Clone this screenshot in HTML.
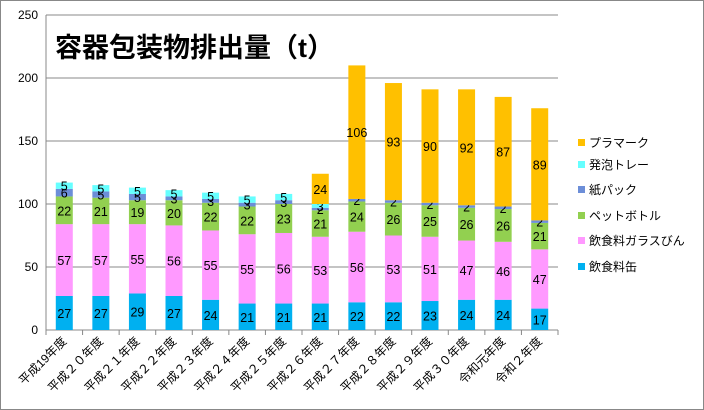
<!DOCTYPE html>
<html><head><meta charset="utf-8"><style>
body{margin:0;background:#fff}
svg{display:block;font-family:"Liberation Sans","Noto Sans CJK JP",sans-serif}
</style></head><body>
<svg id="c" width="704" height="410" viewBox="0 0 704 410">
<rect x="0.5" y="0.5" width="703" height="409" fill="#fff" stroke="#888"/>
<text x="55" y="57" font-size="27" font-weight="bold" fill="#000">容器包装物排出量（t）</text>
<g id="grid"></g><g id="bars"></g><g id="axes"></g><g id="legend"></g>
</svg>
<script>
const categories=["平成19年度","平成２０年度","平成２１年度","平成２２年度","平成２３年度","平成２４年度","平成２５年度","平成２６年度","平成２７年度","平成２８年度","平成２９年度","平成３０年度","令和元年度","令和２年度"];
const can=[27,27,29,27,24,21,21,21,22,22,23,24,24,17];
const glass=[57,57,55,56,55,55,56,53,56,53,51,47,46,47];
const pet=[22,21,19,20,22,22,23,21,24,26,25,26,26,21];
const paper=[6,5,5,3,3,3,3,2,2,2,2,2,2,2];
const tray=[5,5,5,5,5,5,5,3,0,0,0,0,0,0];
const plamark=[0,0,0,0,0,0,0,24,106,93,90,92,87,89];
const yTicks=[0,50,100,150,200,250];
const seriesNames=["飲食料缶","飲食料ガラスびん","ペットボトル","紙パック","発泡トレー","プラマーク"];
const NS="http://www.w3.org/2000/svg";
const series=[can,glass,pet,paper,tray,plamark];
const colors=["#00B0F0","#FF99FF","#92D050","#6C8ED8","#66FFFF","#FFC000"];
const X0=46,X1=558,Y0=330,Y1=15,YMAX=250;
const step=(X1-X0)/categories.length;
const y=v=>Y0-(v/YMAX)*(Y0-Y1);
const xc=i=>X0+step*(i+0.5);
function mk(tag,attrs,parent){const e=document.createElementNS(NS,tag);for(const k in attrs)e.setAttribute(k,attrs[k]);parent.appendChild(e);return e;}
const grid=document.getElementById('grid'),bars=document.getElementById('bars'),axes=document.getElementById('axes'),legend=document.getElementById('legend');
yTicks.forEach(t=>{
 const l=mk('line',{x1:X0,x2:X1,y1:y(t),y2:y(t),stroke:'#888','stroke-width':1},grid);
 
 
 const tx=mk('text',{x:X0-8,y:y(t)+4,'text-anchor':'end','font-size':12,fill:'#000'},axes);
 tx.textContent=t;
 
 
});
const ax=mk('line',{x1:X0,x2:X0,y1:Y1,y2:Y0,stroke:'#888'},axes);


for(let i=0;i<=categories.length;i++){
 const t=mk('line',{x1:X0+step*i,x2:X0+step*i,y1:Y0,y2:Y0+5,stroke:'#888'},axes);
 
 
}
const bw=17;
categories.forEach((c,i)=>{
 let acc=0;
 series.forEach((s,k)=>{
  const v=s[i]; if(!v)return;
  const r=mk('rect',{x:xc(i)-bw/2,y:y(acc+v),width:bw,height:y(acc)-y(acc+v),fill:colors[k]},bars);
  
  
  const t=mk('text',{x:xc(i),y:(y(acc)+y(acc+v))/2+5,'text-anchor':'middle','font-size':12.5,fill:'#000'},bars);
  t.textContent=v;
  
  
  acc+=v;
 });
 const lx=xc(i)+3,ly=Y0+12;
 const t=mk('text',{x:lx,y:ly,'text-anchor':'end','font-size':12,fill:'#000',transform:`rotate(-45 ${lx} ${ly})`},axes);
 t.textContent=c;
 
 
});
const legY=[267,241,216,190,165,143];
seriesNames.forEach((n,k)=>{
 const g=mk('g',{},legend);
 
 
 mk('rect',{x:578,y:legY[k]-4,width:7,height:7,fill:colors[k]},g);
 const t=mk('text',{x:589,y:legY[k]+4,'font-size':12,fill:'#000'},g);
 t.textContent=n;
});
</script>
</body></html>
